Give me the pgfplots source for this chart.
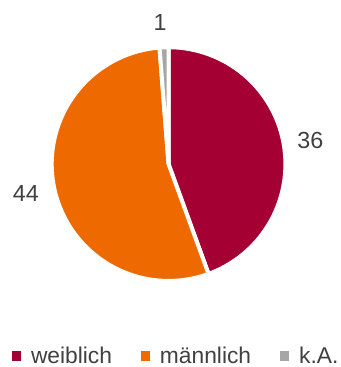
\documentclass[border=0pt]{standalone}
\usepackage{fontspec}
\setmainfont{Liberation Sans}
\usepackage{pgfplots}
\pgfplotsset{compat=1.18}
\definecolor{cW}{RGB}{165,0,52}
\definecolor{cM}{RGB}{238,106,0}
\definecolor{cK}{RGB}{166,166,166}
\definecolor{txt}{RGB}{64,64,64}
% data
\newcommand\vW{36}
\newcommand\vM{44}
\newcommand\vK{1}
\pgfmathsetmacro\tot{\vW+\vM+\vK}
\pgfmathsetmacro\aA{90}
\pgfmathsetmacro\aB{\aA-360*\vW/\tot}
\pgfmathsetmacro\aC{\aB-360*\vM/\tot}
\pgfmathsetmacro\aD{\aC-360*\vK/\tot}
\begin{document}
\begin{tikzpicture}
\begin{axis}[
  scale only axis, width=339bp, height=367bp,
  xmin=0, xmax=339, ymin=0, ymax=367,
  hide axis, clip=false,
  legend image code/.code={\fill[#1] (-4.6bp,-4.6bp) rectangle (4.6bp,4.6bp);},
  legend style={at={(axis cs:12,9)}, anchor=west, draw=none, fill=none,
    legend columns=3, font=\fontsize{23}{26}\selectfont, text=txt,
    inner sep=0pt, outer sep=0pt,
    /tikz/every odd column/.append style={column sep=8bp},
    /tikz/every even column/.append style={column sep=27bp}},
  legend cell align=left,
]
\addplot[draw=none, forget plot] coordinates {(0,0) (339,367)};
\addplot[fill=cW, draw=white, line width=4bp, line join=round, domain=\aB:\aA, samples=90, variable=\t, forget plot]
  ({169.5+117.5*cos(\t)},{202+117.5*sin(\t)}) -- (axis cs:169.5,202) -- cycle;
\addplot[fill=cM, draw=white, line width=4bp, line join=round, domain=\aC:\aB, samples=110, variable=\t, forget plot]
  ({169.5+117.5*cos(\t)},{202+117.5*sin(\t)}) -- (axis cs:169.5,202) -- cycle;
\addplot[fill=cK, draw=white, line width=4bp, line join=round, domain=\aD:\aC, samples=8, variable=\t, forget plot]
  ({169.5+117.5*cos(\t)},{202+117.5*sin(\t)}) -- (axis cs:169.5,202) -- cycle;
\node[text=txt, font=\fontsize{23.5}{26}\selectfont] at (axis cs:312,226) {36};
\node[text=txt, font=\fontsize{23.5}{26}\selectfont] at (axis cs:26,172) {44};
\node[text=txt, font=\fontsize{23.5}{26}\selectfont] at (axis cs:161,344) {1};
\addlegendimage{fill=cW, draw=none}
\addlegendentry{weiblich}
\addlegendimage{fill=cM, draw=none}
\addlegendentry{männlich}
\addlegendimage{fill=cK, draw=none}
\addlegendentry{k.A.}
\end{axis}
\end{tikzpicture}
\end{document}
